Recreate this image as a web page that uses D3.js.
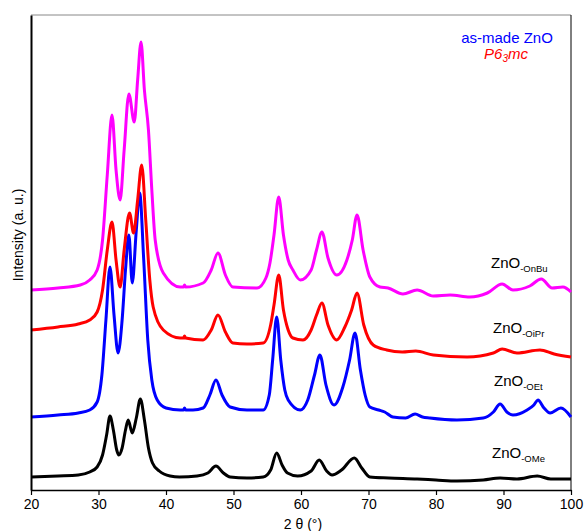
<!DOCTYPE html>
<html><head><meta charset="utf-8">
<script src="https://cdn.jsdelivr.net/npm/d3@7"></script>
<style>body{margin:0;background:#fff}svg{display:block}</style>
</head><body><svg id="c" width="584" height="531"></svg>
<script>
// 2θ (degrees) and intensity (a.u., stacked with offsets as in the figure)
const xTicks = [20, 30, 40, 50, 60, 70, 80, 90, 100];
const seriesNames = ["ZnO-OMe", "ZnO-OEt", "ZnO-OiPr", "ZnO-OnBu"];

const omeData = [[20,13],[24,14],[27,15],[28.7,18],[29.8,23],[30.6,35],[31.2,55],[31.7,74],[32.2,60],[32.7,40],[33.0,35],[33.5,42],[34.0,60],[34.4,70],[35.0,57],[35.6,72],[36.2,91],[36.8,70],[37.4,42],[38.0,27],[39.0,19],[40.6,14],[42.0,13],[44.6,14],[46.2,17],[47.4,24],[48.5,17],[49.5,13],[52,12],[54.4,13],[55.5,20],[56.4,37],[57.2,25],[58.0,17],[59.5,14],[61.5,19],[62.7,30],[63.8,19],[64.6,15],[66.0,20],[67.9,32],[69.0,22],[70.2,13],[73,12],[77.2,11],[80,10],[83.1,9],[87,10],[89.5,12],[92,11],[95,14],[97,11],[100,11]];

const oetData = [[20,73],[24,75],[27,77],[28.7,80],[29.8,88],[30.5,115],[31.1,170],[31.7,223],[32.3,175],[32.9,137],[33.5,170],[34.0,220],[34.5,255],[35.0,207],[35.6,260],[36.1,297],[36.7,230],[37.3,150],[37.9,110],[38.7,90],[40,82],[42.1,80],[42.6,80],[42.75,82],[42.9,80],[44,80],[45.5,82],[46.5,95],[47.4,110],[48.3,95],[49.5,83],[52,80],[54.4,80],[55.3,95],[55.8,130],[56.4,173],[57.0,130],[57.6,100],[58.1,90],[59.9,80],[61.0,90],[62.0,115],[62.8,135],[63.7,105],[64.9,85],[66.2,103],[67.2,130],[68.0,157],[68.8,120],[69.5,95],[70.2,83],[71.5,80],[72.4,78],[73.6,73],[75.5,72],[76.9,76],[78,73],[79.1,72],[83.1,70],[87,72],[88.5,78],[89.5,86],[90.5,78],[91.4,75],[93.5,80],[94.5,85],[95.1,90],[96.0,82],[96.9,77],[98.5,82],[100,73]];

const oiprData = [[20,160],[24,163],[27,166],[28.7,170],[29.8,178],[30.6,200],[31.3,240],[32.0,268],[32.6,230],[33.2,203],[33.8,240],[34.6,277],[35.2,257],[35.8,290],[36.4,325],[37.0,270],[37.6,210],[38.1,183],[39.6,160],[42.1,152],[42.6,152],[42.75,154],[42.9,152],[45.5,150],[46.7,160],[47.7,175],[48.8,158],[49.9,147],[52,146],[54.4,147],[55.5,165],[56.0,185],[56.7,215],[57.4,180],[58.1,160],[58.8,152],[60.3,150],[61.5,160],[62.3,175],[63.1,187],[64.0,165],[65.3,150],[66.5,163],[67.5,180],[68.3,197],[69.3,165],[70.7,145],[72.7,140],[75,138],[77.0,139],[79.6,135],[84.6,133],[88.5,137],[89.8,141],[92,137],[95.4,140],[97.5,136],[100,133]];

const onbuData = [[20,200],[24,202],[27.3,205],[28.7,210],[29.8,220],[30.6,250],[31.3,315],[32.0,375],[32.6,320],[33.2,290],[33.8,340],[34.5,396],[35.3,368],[35.8,410],[36.3,448],[36.8,400],[37.4,360],[37.9,300],[38.4,250],[39.6,217],[42.1,203],[42.6,203],[42.75,205],[42.9,203],[45.5,207],[46.7,220],[47.7,237],[48.8,215],[49.9,203],[53.5,202],[54.8,212],[55.4,227],[56.0,255],[56.7,293],[57.4,255],[58.1,230],[58.8,220],[59.9,210],[61.5,220],[62.3,240],[63.1,258],[64.0,232],[65.3,215],[66.8,230],[67.6,250],[68.3,275],[69.2,240],[70.2,213],[71.7,203],[72.9,202],[75.1,196],[77.2,200],[79.6,194],[82.1,195],[85,193],[87.6,197],[89.8,206],[91.4,200],[93.9,204],[95.6,211],[97.2,202],[98.8,203],[100,198]];

const seriesData = [omeData, oetData, oiprData, onbuData];
const seriesColors = ["#000000", "#0000ff", "#ff0000", "#ff00ff"];
const labelMain = ["ZnO", "ZnO", "ZnO", "ZnO"];
const labelSub = ["-OMe", "-OEt", "-OiPr", "-OnBu"];
const labelPos = [[492, 458], [494, 386], [493, 333], [491, 268]]; // [x, baseline] in px

const svg = d3.select("#c");
const L = 31, R = 571, T = 15, B = 490;
const x = d3.scaleLinear().domain([20, 100]).range([L, R]);
const y = d3.scaleLinear().domain([0, 475]).range([B, T]);

const FONT = "Arial, 'Liberation Sans', sans-serif";

// frame: top grey, right black
svg.append("line").attr("x1", L).attr("x2", R).attr("y1", T).attr("y2", T).attr("stroke", "#888").attr("stroke-width", 1);
svg.append("line").attr("x1", R).attr("x2", R).attr("y1", T).attr("y2", B).attr("stroke", "#000").attr("stroke-width", 1);

const g = svg.append("g");
const line = d3.line().x(d => x(d[0])).y(d => y(d[1])).curve(d3.curveMonotoneX);
seriesData.forEach((data, i) => {
  g.append("path").datum(data).attr("d", line).attr("fill", "none")
    .attr("stroke", seriesColors[i]).attr("stroke-width", 3).attr("stroke-linejoin", "round");
});

// bottom axis
const xAxis = d3.axisBottom(x).tickValues(xTicks).tickSize(5).tickSizeOuter(0).tickPadding(4).tickFormat(d3.format("d"));
const ax = svg.append("g").attr("transform", `translate(0,${B})`).call(xAxis);
ax.select(".domain").attr("stroke", "#000").attr("stroke-width", 1.5);
ax.selectAll(".tick line").attr("stroke", "#000").attr("stroke-width", 1.2);
ax.selectAll(".tick text").attr("font-family", FONT).attr("font-size", 14).attr("fill", "#000");

// left axis (line only)
const yAxis = d3.axisLeft(y).tickValues([]).tickSizeOuter(0);
const ay = svg.append("g").attr("transform", `translate(${L},0)`).call(yAxis);
ay.select(".domain").attr("stroke", "#000").attr("stroke-width", 2);

// axis titles
svg.append("text").attr("x", (L + R) / 2 + 2).attr("y", 529).attr("text-anchor", "middle")
  .attr("font-family", FONT).attr("font-size", 14).text("2 θ (°)");
svg.append("text").attr("transform", "translate(23,235) rotate(-90)").attr("text-anchor", "middle")
  .attr("font-family", FONT).attr("font-size", 14).text("Intensity (a. u.)");

// legend
svg.append("text").attr("x", 507).attr("y", 43).attr("text-anchor", "middle")
  .attr("font-family", FONT).attr("font-size", 15).attr("fill", "#0000ff").text("as-made ZnO");
const p = svg.append("text").attr("x", 506).attr("y", 59).attr("text-anchor", "middle")
  .attr("font-family", FONT).attr("font-size", 15).attr("fill", "#ff0000").attr("font-style", "italic");
p.append("tspan").text("P6");
p.append("tspan").attr("font-size", 10).attr("dy", 3).text("3");
p.append("tspan").attr("font-size", 15).attr("dy", -3).text("mc");

// series labels
labelPos.forEach((pos, i) => {
  const t = svg.append("text").attr("x", pos[0]).attr("y", pos[1])
    .attr("font-family", FONT).attr("font-size", 15).attr("fill", "#000");
  t.append("tspan").text(labelMain[i]);
  t.append("tspan").attr("font-size", 9.5).attr("dy", 4).text(labelSub[i]);
});
</script></body></html>
